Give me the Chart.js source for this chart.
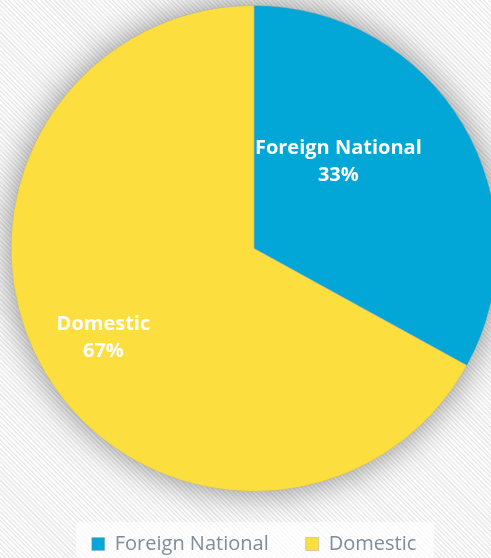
<!DOCTYPE html>
<html>
<head>
<meta charset="utf-8">
<script src="https://cdn.jsdelivr.net/npm/chart.js@4.4.1/dist/chart.umd.min.js"></script>
<style>
    html, body {
        margin: 0;
        padding: 0;
        width: 491px;
        height: 558px;
        overflow: hidden;
        background-color: #f6f6f6;
        background-image: repeating-linear-gradient(45deg, #ebebeb 0px, #ebebeb 1.5px, #fdfdfd 1.5px, #fdfdfd 3.2px);
    }
    #wrap {
        position: relative;
        width: 491px;
        height: 564px;
    }
    canvas { display: block; }
</style>
</head>
<body>
<div id="wrap"><canvas id="pieChart" width="491" height="564"></canvas></div>
<script>
// Chart data
const categories = ['Foreign National', 'Domestic'];
const values = [33, 67];
const sliceColors = ['#02A6D7', '#FDDE3F'];

// where the data labels sit inside each slice (fraction of slice angle, fraction of radius)
const labelAngleFrac = [0.37, 0.50];
const labelRadiusFrac = [0.50, 0.72];

const fontFamily = '"Open Sans", "Noto Sans", sans-serif';

// soft grey shadow behind the pie
const pieShadow = {
    id: 'pieShadow',
    beforeDatasetsDraw(chart) {
        const arc = chart.getDatasetMeta(0).data[0];
        if (!arc) return;
        const ctx = chart.ctx;
        ctx.save();
        ctx.shadowColor = 'rgba(0, 0, 0, 0.45)';
        ctx.shadowBlur = 34;
        ctx.fillStyle = '#cccccc';
        ctx.beginPath();
        ctx.arc(arc.x, arc.y, arc.outerRadius, 0, Math.PI * 2);
        ctx.fill();
        ctx.restore();
    }
};

// white panel behind the legend
const legendPanel = {
    id: 'legendPanel',
    beforeDraw(chart) {
        const boxes = chart.legend.legendHitBoxes;
        if (!boxes || !boxes.length) return;
        const first = boxes[0];
        const last = boxes[boxes.length - 1];
        const ctx = chart.ctx;
        ctx.save();
        ctx.fillStyle = 'rgba(255, 255, 255, 0.7)';
        ctx.fillRect(first.left - 16, first.top - 12, (last.left + last.width) - first.left + 34, 50);
        ctx.restore();
    }
};

// category name + percentage in each slice
const sliceLabels = {
    id: 'sliceLabels',
    afterDatasetsDraw(chart) {
        const meta = chart.getDatasetMeta(0);
        const total = values.reduce((a, b) => a + b, 0);
        const ctx = chart.ctx;
        ctx.save();
        ctx.fillStyle = '#ffffff';
        ctx.textAlign = 'center';
        ctx.textBaseline = 'middle';
        ctx.font = 'bold 20px ' + fontFamily;
        meta.data.forEach(function(arc, i) {
            const a = arc.startAngle + (arc.endAngle - arc.startAngle) * labelAngleFrac[i];
            const r = arc.outerRadius * labelRadiusFrac[i];
            const x = arc.x + Math.cos(a) * r;
            const y = arc.y + Math.sin(a) * r;
            const pct = Math.round(values[i] / total * 100) + '%';
            ctx.fillText(categories[i], x, y - 13);
            ctx.fillText(pct, x, y + 14);
        });
        ctx.restore();
    }
};

new Chart(document.getElementById('pieChart').getContext('2d'), {
    type: 'pie',
    data: {
        labels: categories,
        datasets: [{
            data: values,
            backgroundColor: sliceColors,
            borderColor: 'rgba(170, 170, 170, 0.5)',
            borderWidth: 1,
            radius: 243,
            clip: false
        }]
    },
    options: {
        responsive: false,
        animation: false,
        devicePixelRatio: 1,
        layout: {
            padding: { left: 17, right: 0, top: 0, bottom: 0 }
        },
        plugins: {
            tooltip: { enabled: false },
            legend: {
                display: true,
                position: 'bottom',
                labels: {
                    boxWidth: 13,
                    boxHeight: 13,
                    padding: 37,
                    color: '#7F8D98',
                    font: { family: fontFamily, size: 20 }
                }
            }
        }
    },
    plugins: [pieShadow, legendPanel, sliceLabels]
});
</script>
</body>
</html>
